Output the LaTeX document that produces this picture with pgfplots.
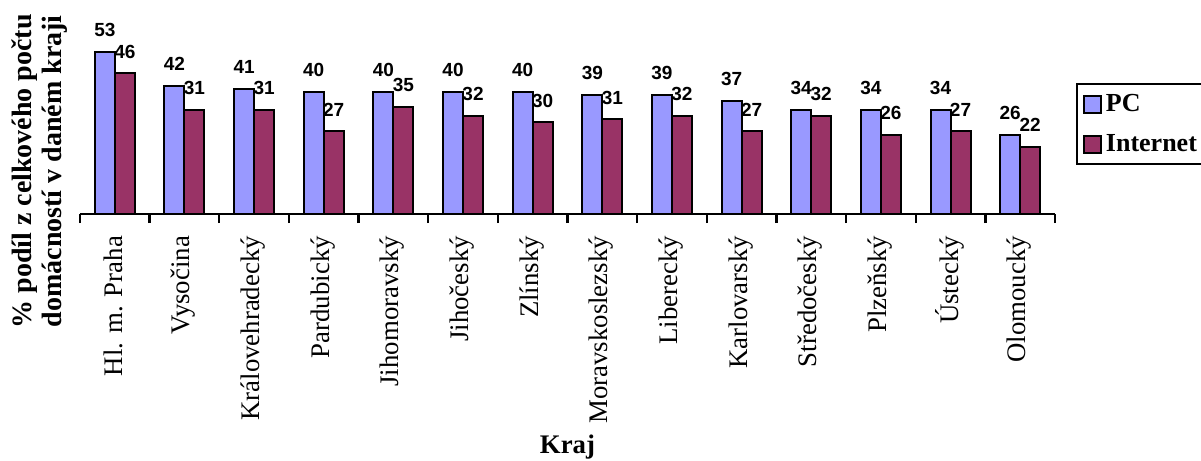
\documentclass[border=0pt]{standalone}
\usepackage{pgfplots}
\pgfplotsset{compat=1.18}
\usepackage{fontspec}
\setmainfont{Liberation Serif}
\newfontfamily\arialfont{Liberation Sans}
\definecolor{pcblue}{HTML}{9999FF}
\definecolor{netred}{HTML}{993366}

\pgfplotsset{
  boxlegend/.style={legend image code/.code={%
    \draw[##1, line width=1pt, draw=black] (0pt,-4.25pt) rectangle (8.5pt,4.25pt);}},
}

\begin{document}
\begin{tikzpicture}
% 1 px of the reference = 0.5pt
\path[use as bounding box] (-40pt,-123.5pt) rectangle (560.5pt,107pt);
\begin{axis}[
  at={(0pt,0pt)}, anchor=south west,
  scale only axis, width=487.5pt, height=107pt,
  ybar=0pt, bar width=10pt,
  xmin=-0.5, xmax=13.5, ymin=0, ymax=70,
  axis lines*=left,
  y axis line style={draw=none},
  ytick=\empty,
  x axis line style={line width=1.2pt},
  xtick={-0.5,0.5,...,13.5},
  xticklabels={},
  xtick align=outside,
  major tick length=4.5pt,
  every tick/.style={black, line width=1.2pt},
  extra x ticks={0,...,13},
  extra x tick labels={Hl. m. Praha, Vysočina, Královehradecký, Pardubický,
    Jihomoravský, Jihočeský, Zlínský, Moravskoslezský, Liberecký,
    Karlovarský, Středočeský, Plzeňský, Ústecký, Olomoucký},
  extra x tick style={major tick length=0pt,
    xticklabel style={rotate=90, anchor=east, xshift=-7.5pt, yshift=0.5pt,
      font=\fontsize{13.4}{13.4}\selectfont}},
  xlabel={Kraj},
  ylabel={\% podíl z celkového počtu\\domácností v daném kraji},
  every axis x label/.style={at={(axis description cs:0.5,-1.09)}, anchor=center,
    font=\bfseries\fontsize{13.4}{13.4}\selectfont},
  every axis y label/.style={at={(axis description cs:-0.041,0.2)}, anchor=center,
    rotate=90, align=center, font=\bfseries\fontsize{14}{15}\selectfont},
  point meta=explicit,
  nodes near coords,
  /pgf/number format/assume math mode=true,
  every node near coord/.append style={font=\arialfont\bfseries\fontsize{9.5}{9.5}\selectfont,
    inner sep=0pt, anchor=south, yshift=7pt, black},
  legend style={at={(axis description cs:1.0215,0.612)}, anchor=north west,
    draw=black, line width=1pt, font=\bfseries\fontsize{13}{13}\selectfont,
    inner xsep=3pt, inner ysep=1.5pt, row sep=3pt,
    nodes={inner ysep=2pt, text height=10pt, text depth=3pt}},
  legend cell align=left,
]
\addplot[fill=pcblue, draw=black, line width=1pt, boxlegend] coordinates {
  (0,53) [53] (1,42) [42] (2,41) [41] (3,40) [40] (4,40) [40] (5,40) [40] (6,40) [40]
  (7,39) [39] (8,39) [39] (9,37) [37] (10,34) [34] (11,34) [34] (12,34) [34] (13,26) [26]
};
\addplot[fill=netred, draw=black, line width=1pt, boxlegend] coordinates {
  (0,46) [46] (1,34) [31] (2,34) [31] (3,27) [27] (4,35) [35] (5,32) [32] (6,30) [30]
  (7,31) [31] (8,32) [32] (9,27) [27] (10,32) [32] (11,26) [26] (12,27) [27] (13,22) [22]
};
\legend{PC, Internet}
\end{axis}
\end{tikzpicture}
\end{document}
